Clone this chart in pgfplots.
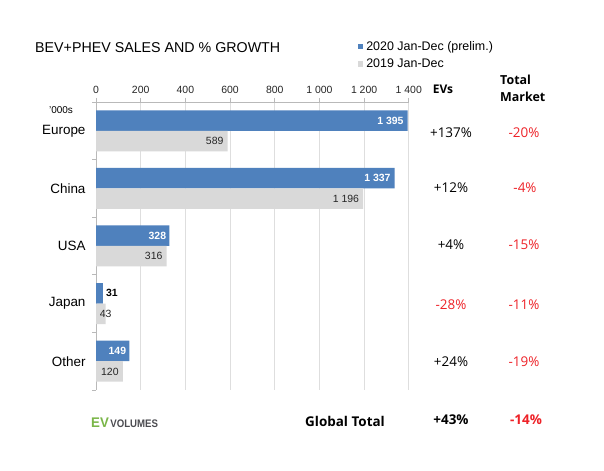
\documentclass[border=0pt]{standalone}
\usepackage{pgfplots}
\pgfplotsset{compat=1.18}
\usepackage{pgfplotstable}
\usepackage{fontspec}
\setmainfont{Liberation Sans}
\newfontfamily\osans{Open Sans}
\definecolor{evblue}{RGB}{79,129,189}
\definecolor{evgray}{RGB}{217,217,217}
\definecolor{gridc}{RGB}{222,222,222}
\definecolor{axc}{RGB}{185,185,185}
\definecolor{evred}{RGB}{238,34,40}
\definecolor{evgreen}{RGB}{122,182,72}
\definecolor{logogray}{RGB}{75,75,80}

\pgfplotstableread[col sep=comma]{
x,y,lab,xs,wh
1395,4,1 395,-4,100
1337,3,1 337,-4,100
328,2,328,-3,100
31,1,31,15,0
149,0,149,-3,100
}\bluedata

\pgfplotstableread[col sep=comma]{
x,y,lab,xs
589,4,589,-4
1196,3,1 196,-4
316,2,316,-4
43,1,43,6
120,0,120,-4
}\graydata

\begin{document}
\begin{tikzpicture}
\fill[white] (0,0) rectangle (604bp,471bp);
\useasboundingbox (0,0) rectangle (604bp,471bp);

\begin{axis}[
  at={(96bp,81bp)}, anchor=south west,
  scale only axis, width=312.8bp, height=288bp,
  xmin=0, xmax=1400, ymin=-0.5, ymax=4.5,
  axis x line*=top, axis y line*=left,
  xtick={0,200,...,1400},
  xticklabels={0,200,400,600,800,1 000,1 200,1 400},
  xmajorgrids, major grid style={gridc, line width=0.7pt},
  ytick={-0.5,0.5,...,4.5}, yticklabels={},
  extra y ticks={0,1,2,3,4},
  extra y tick labels={Other,Japan,USA,China,Europe},
  extra y tick style={major tick length=0pt,
     tick label style={font=\fontsize{13.5}{15}\selectfont, xshift=-7bp}},
  tick align=outside, major tick length=4bp,
  axis line style={axc, line width=0.7pt},
  tick style={axc, line width=0.7pt},
  xticklabel style={font=\fontsize{10.5}{12}\selectfont, text=black!85, yshift=1bp},
  /pgf/number format/assume math mode=true,
  legend style={at={(axis description cs:0.836,1.215)}, anchor=north west,
     draw=none, fill=none, inner sep=0pt, row sep=5bp,
     font=\fontsize{12.5}{14}\selectfont,
     nodes={inner sep=1bp},
     /tikz/every odd column/.style={column sep=2bp}},
  legend cell align=left,
]
\addplot[xbar, fill=evblue, draw=none, bar width=20.5bp, bar shift=10.25bp,
  nodes near coords, point meta=explicit symbolic,
  visualization depends on={\thisrow{xs}\as\xs},
  visualization depends on={\thisrow{wh}\as\wh},
  every node near coord/.append style={anchor=east, xshift=\xs bp, yshift=10.25bp, text=white!\wh!black,
     font=\bfseries\fontsize{10.5}{12}\selectfont, inner sep=0pt},
  legend image code/.code={\fill[evblue] (0bp,-2.8bp) rectangle (5.6bp,2.8bp);}
] table[x=x, y=y, meta=lab] {\bluedata};
\addlegendentry{2020 Jan-Dec (prelim.)}
\addplot[xbar, fill=evgray, draw=none, bar width=20.5bp, bar shift=-10.25bp,
  nodes near coords, point meta=explicit symbolic,
  visualization depends on={\thisrow{xs}\as\xs},
  every node near coord/.append style={anchor=east, xshift=\xs bp, yshift=-10.25bp, text=black!85,
     font=\fontsize{10.5}{12}\selectfont, inner sep=0pt},
  legend image code/.code={\fill[evgray] (0bp,-2.8bp) rectangle (5.6bp,2.8bp);}
] table[x=x, y=y, meta=lab] {\graydata};
\addlegendentry{2019 Jan-Dec}
\end{axis}

% title and labels
\node[anchor=west, inner sep=0pt, font=\fontsize{14.3}{16}\selectfont] at (35bp,423bp) {BEV+PHEV SALES AND \% GROWTH};
\node[inner sep=0pt, font=\fontsize{10}{12}\selectfont] at (61bp,361bp) {'000s};

% column headers
\node[inner sep=0pt, font=\osans\bfseries\fontsize{12}{14}\selectfont] at (443bp,382bp) {EVs};
\node[anchor=west, inner sep=0pt, font=\osans\bfseries\fontsize{12.5}{14}\selectfont] at (500bp,391bp) {Total};
\node[anchor=west, inner sep=0pt, font=\osans\bfseries\fontsize{12.5}{14}\selectfont] at (500bp,374bp) {Market};

% growth columns
\begin{scope}[every node/.style={inner sep=0pt, font=\osans\fontsize{13.5}{15}\selectfont}]
\node at (451bp,338bp) {+137\%};
\node[text=evred] at (524bp,338bp) {-20\%};
\node at (451bp,283bp) {+12\%};
\node[text=evred] at (525bp,283bp) {-4\%};
\node at (451bp,226bp) {+4\%};
\node[text=evred] at (524bp,226bp) {-15\%};
\node[text=evred] at (451bp,166bp) {-28\%};
\node[text=evred] at (524bp,166bp) {-11\%};
\node at (451bp,109bp) {+24\%};
\node[text=evred] at (524bp,109bp) {-19\%};
\end{scope}

% global row
\node[inner sep=0pt, font=\osans\bfseries\fontsize{13.5}{15}\selectfont] at (345bp,50bp) {Global Total};
\node[inner sep=0pt, font=\osans\bfseries\fontsize{13.5}{15}\selectfont] at (451bp,51bp) {+43\%};
\node[inner sep=0pt, text=evred, font=\osans\bfseries\fontsize{13.5}{15}\selectfont] at (526bp,51bp) {-14\%};

% logo
\node[anchor=west, inner sep=0pt] at (91bp,48bp) {\textcolor{evgreen}{\fontsize{14}{16}\selectfont\bfseries\scalebox{0.95}[1]{EV}}\hspace{1.5bp}\textcolor{logogray}{\fontsize{11}{12}\selectfont\bfseries\scalebox{0.88}[1]{VOLUMES}}};
\end{tikzpicture}
\end{document}
